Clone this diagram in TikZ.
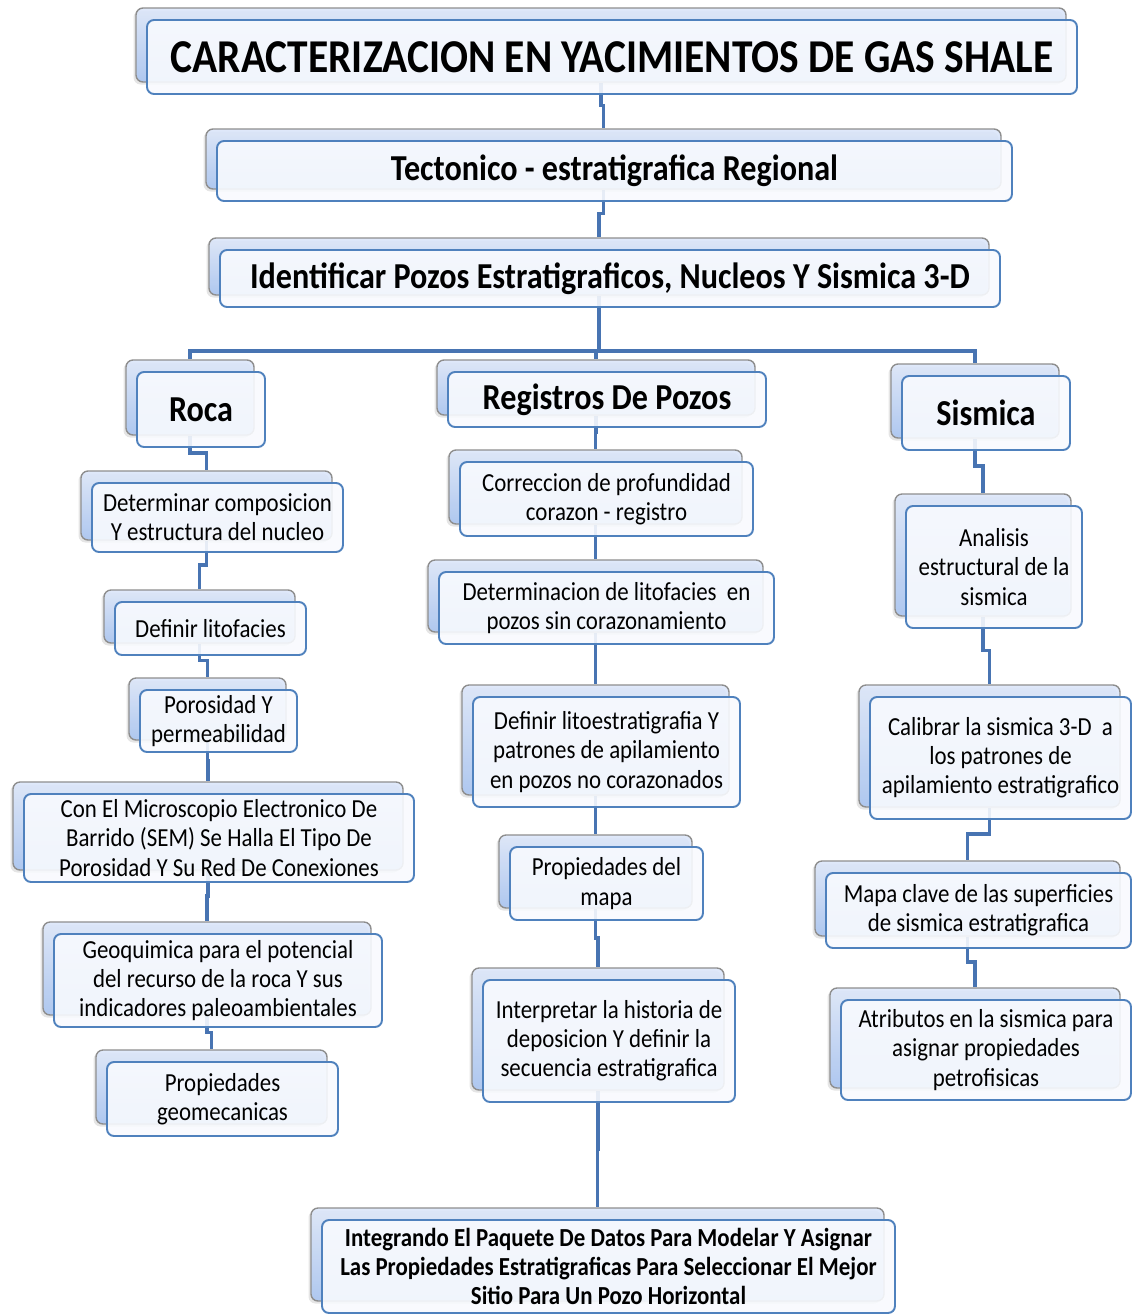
\documentclass[tikz,border=0pt]{standalone}
\usepackage{fontspec}
\setmainfont[FakeStretch=0.88]{Carlito}
\usetikzlibrary{calc,shadows,backgrounds}

\definecolor{cardline}{RGB}{79,129,189}
\definecolor{cardfill}{RGB}{248,250,254}
\definecolor{backline}{RGB}{142,142,142}
\definecolor{backtop}{RGB}{221,231,250}
\definecolor{backbot}{RGB}{170,197,242}
\definecolor{linkblue}{RGB}{72,116,178}

\newcommand{\bodyfont}{\fontsize{14.8}{16.6}\selectfont}
\newcommand{\titlefont}{\fontsize{26.8}{30}\selectfont\bfseries}
\newcommand{\headfont}{\fontsize{20.8}{24}\selectfont\bfseries}
\newcommand{\subfont}{\fontsize{20.8}{24}\selectfont\bfseries}

\tikzset{
  card/.style={draw=cardline, line width=1.1pt, rounded corners=4pt,
    fill=cardfill, fill opacity=0.9, text opacity=1, align=center,
    inner sep=0pt, font=\bodyfont,
    general shadow={shadow xshift=-0.27cm, shadow yshift=0.19cm, fill=black, opacity=0.1},
    general shadow={shadow xshift=-0.22cm, shadow yshift=0.24cm, draw=backline,
      line width=0.8pt, top color=backtop, bottom color=backbot}},
  sz/.style 2 args={minimum width=#1*0.02cm, minimum height=#2*0.02cm},
  bk/.style={shift={(-11,-12)}},
  link/.style={draw=linkblue, line width=2.2pt},
  jog/.style={to path={([bk]\tikztostart.south)
    |- ($([bk]\tikztostart.south)!.5!([bk]\tikztotarget.north)$)
    -| ([bk]\tikztotarget.north)}},
}

\begin{document}
\begin{tikzpicture}[x=0.02cm,y=-0.02cm]
\useasboundingbox (0,0) rectangle (1133,1315);

% Top levels
\node[card,sz={930}{74},font=\titlefont] (title) at (612,57) {CARACTERIZACION EN YACIMIENTOS DE GAS SHALE};
\node[card,sz={795}{60},font=\headfont] (tect) at (614.5,171) {Tectonico - estratigrafica Regional};
\node[card,sz={780}{57},font=\headfont] (ident) at (610,278.5) {Identificar Pozos Estratigraficos, Nucleos Y Sismica 3-D};

% Branches
\node[card,sz={128}{75},font=\subfont] (roca) at (201,409.5) {Roca};
\node[card,sz={318}{55},font=\subfont] (regis) at (607,399.5) {Registros De Pozos};
\node[card,sz={168}{74},font=\subfont] (sism) at (986,413) {Sismica};

% Roca column
\node[card,sz={251}{69}] (detcomp) at (217.5,517.5) {Determinar composicion\\Y estructura del nucleo};
\node[card,sz={191}{53}] (deflito) at (210.5,628.5) {Definir litofacies};
\node[card,sz={157}{62}] (poros) at (218.5,721) {Porosidad Y\\permeabilidad};
\node[card,sz={390}{88}] (sem) at (219,838) {Con El Microscopio Electronico De\\Barrido (SEM) Se Halla El Tipo De\\Porosidad Y Su Red De Conexiones};
\node[card,sz={328}{93}] (geoq) at (218,980.5) {Geoquimica para el potencial\\del recurso de la roca Y sus\\indicadores paleoambientales};
\node[card,sz={231}{74}] (geomec) at (222.5,1099) {Propiedades\\geomecanicas};

% Registros column
\node[card,sz={293}{74}] (correc) at (606.5,499) {Correccion de profundidad\\corazon - registro};
\node[card,sz={335}{72}] (detlito) at (606.5,608) {Determinacion de litofacies\ \ en\\pozos sin corazonamiento};
\node[card,sz={267}{110}] (litoest) at (606.5,752) {Definir litoestratigrafia Y\\patrones de apilamiento\\en pozos no corazonados};
\node[card,sz={193}{73}] (mapa) at (606.5,883.5) {Propiedades del\\mapa};
\node[card,sz={252}{122}] (interp) at (609,1041) {Interpretar la historia de\\deposicion Y definir la\\secuencia estratigrafica};

% Sismica column
\node[card,sz={176}{122}] (analis) at (994,567) {Analisis\\estructural de la\\sismica};
\node[card,sz={261}{122}] (calib) at (1000.5,758) {Calibrar la sismica 3-D\ \ a\\los patrones de\\apilamiento estratigrafico};
\node[card,sz={305}{75}] (mapclave) at (978.5,910.5) {Mapa clave de las superficies\\de sismica estratigrafica};
\node[card,sz={290}{100}] (atrib) at (986,1050) {Atributos en la sismica para\\asignar propiedades\\petrofisicas};

% Result
\node[card,sz={573}{93},font=\bodyfont\bfseries] (integ) at (608.5,1266.5) {Integrando El Paquete De Datos Para Modelar Y Asignar\\Las Propiedades Estratigraficas Para Seleccionar El Mejor\\Sitio Para Un Pozo Horizontal};

% Connectors
\begin{scope}[on background layer]
\draw[link] (title) to[jog] (tect);
\draw[link] (tect) to[jog] (ident);
\draw[link] ([bk]ident.south) -- ++(0,55) coordinate (fork);
\draw[link] (fork) -| ([bk]roca.north);
\draw[link] (fork) -| ([bk]regis.north);
\draw[link] (fork) -| ([bk]sism.north);

\draw[link] (roca) to[jog] (detcomp);
\draw[link] (detcomp) to[jog] (deflito);
\draw[link] (deflito) to[jog] (poros);
\draw[link] (poros) to[jog] (sem);
\draw[link] (sem) to[jog] (geoq);
\draw[link] (geoq) to[jog] (geomec);

\draw[link] (regis) to[jog] (correc);
\draw[link] (correc) to[jog] (detlito);
\draw[link] (detlito) to[jog] (litoest);
\draw[link] (litoest) to[jog] (mapa);
\draw[link] (mapa) to[jog] (interp);
\draw[link] (interp) to[jog] (integ);

\draw[link] (sism) to[jog] (analis);
\draw[link] (analis) to[jog] (calib);
\draw[link] (calib) to[jog] (mapclave);
\draw[link] (mapclave) to[jog] (atrib);
\end{scope}
\end{tikzpicture}
\end{document}
